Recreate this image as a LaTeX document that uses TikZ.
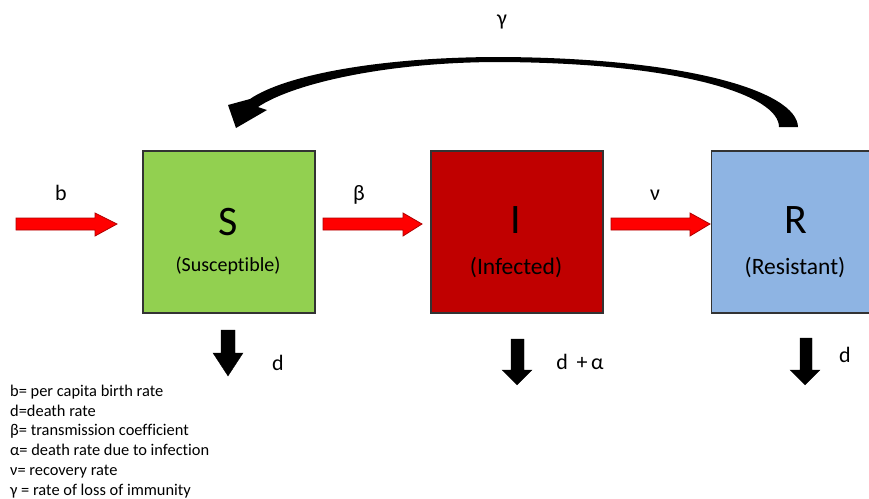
\documentclass[tikz,border=0pt]{standalone}
\usepackage{fontspec}
\setmainfont{Carlito}[Ligatures={NoCommon}]
\definecolor{sgreen}{HTML}{92D050}
\definecolor{ired}{HTML}{C00000}
\definecolor{rblue}{HTML}{8EB4E3}
\definecolor{arrred}{HTML}{FF0000}
\definecolor{arredge}{HTML}{B00000}
\definecolor{boxedge}{HTML}{333333}
\tikzset{
  compbox/.style={draw=boxedge, line width=1.4pt, minimum width=172pt, minimum height=162pt, inner sep=0pt},
  bigletter/.style={font=\fontsize{42}{42}\selectfont, anchor=base, inner sep=0pt},
  subname/.style={font=\fontsize{23.5}{23.5}\selectfont, anchor=base, inner sep=0pt},
  ratelabel/.style={font=\fontsize{22}{22}\selectfont, anchor=base, inner sep=0pt},
  redarrow/.style={fill=arrred, draw=arredge, line width=0.8pt, line join=miter},
  blackarrow/.style={fill=black, draw=black, line width=0.3pt},
}
\begin{document}
\begin{tikzpicture}[x=1pt,y=-1pt]
\useasboundingbox (0,0) rectangle (869,498);
\clip (0,0) rectangle (869,498);
% compartments
\node[compbox, fill=sgreen] (S) at (229,232) {};
\node[compbox, fill=ired] (I) at (517,232) {};
\node[compbox, fill=rblue, anchor=west] (R) at (711,232) {};
\node[bigletter] (St) at (228,235) {S};
\node[bigletter] (It) at (516,233) {I};
\node[bigletter] (Rt) at (796,233) {R};
\node[subname, font=\fontsize{20}{20}\selectfont] (Sn) at (228,271) {(Susceptible)};
\node[subname] (In) at (516,274) {(Infected)};
\node[subname] (Rn) at (795,274) {(Resistant)};
% red flow arrows
\coordinate (btip) at (117,224);
\coordinate (betatip) at (422,224);
\coordinate (nutip) at (710,224);
\draw[redarrow] (16,218) -- (95,218) -- (95,213) -- (btip) -- (95,236) -- (95,230) -- (16,230) -- cycle;
\draw[redarrow] (323,218) -- (403,218) -- (403,213) -- (betatip) -- (403,236) -- (403,230) -- (323,230) -- cycle;
\draw[redarrow] (611,218) -- (690,218) -- (690,213) -- (nutip) -- (690,236) -- (690,230) -- (611,230) -- cycle;
\node[ratelabel] (lb) at (61,200) {b};
\node[ratelabel] (lbeta) at (359,200) {β};
\node[ratelabel] (lnu) at (655,200) {ν};
% death arrows
\draw[blackarrow] (221,330) -- (235,330) -- (235,353) -- (243,353) -- (228,376) -- (213,353) -- (221,353) -- cycle;
\draw[blackarrow] (511,339) -- (524,339) -- (524,370) -- (532,370) -- (517,385) -- (502,370) -- (511,370) -- cycle;
\draw[blackarrow] (800,338) -- (812,338) -- (812,370) -- (820,370) -- (805,385) -- (790,370) -- (800,370) -- cycle;
\node[ratelabel] (dS) at (278,370) {d};
\node[ratelabel] (dI) at (580,369) {d\, +\,α};
\node[ratelabel] (dR) at (845,362) {d};
% loss of immunity curved arrow
\fill[black] (779,127) -- (798,127)
  .. controls (797,92) and (690,58) .. (500,57)
  .. controls (380,57) and (285,75) .. (250,99)
  -- (228,105) -- (236,128) -- (267,110) -- (258,107)
  .. controls (292,84) and (385,62) .. (500,62)
  .. controls (680,63) and (779,95) .. (779,127) -- cycle;
\node[ratelabel, anchor=center] (lgamma) at (502,22) {γ};
% legend
\node[anchor=north west, align=left, inner sep=0pt, font=\fontsize{16.4}{19.7}\selectfont] (legend) at (10,385)
{b= per capita birth rate\\
d=death rate\\
β= transmission coefficient\\
α= death rate due to infection\\
ν= recovery rate\\
γ = rate of loss of immunity};
\end{tikzpicture}
\end{document}
